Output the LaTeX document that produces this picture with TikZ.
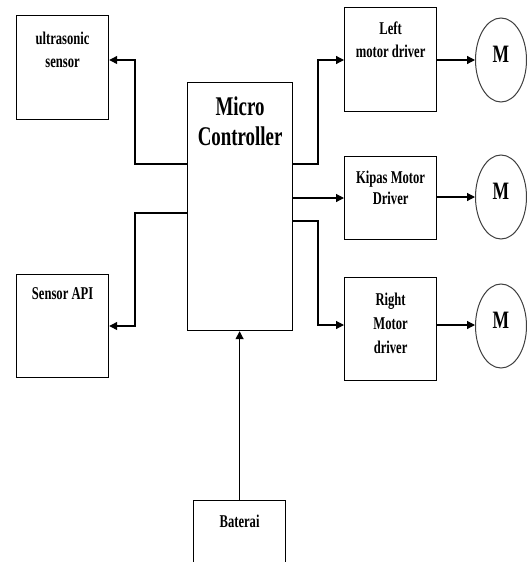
\documentclass[tikz,border=0pt]{standalone}
\usepackage{fontspec}
\setmainfont[FakeStretch=0.7]{Liberation Serif}
\usetikzlibrary{arrows.meta,shapes.geometric}
\begin{document}
\begin{tikzpicture}[x=1pt,y=1pt,
  blk/.style={draw=black, line width=1.2pt, rectangle, inner sep=0pt, anchor=north west},
  lab/.style={anchor=north, inner sep=0pt, align=center, yshift=-15pt,
    font=\bfseries\fontsize{18}{23}\selectfont},
  biglab/.style={anchor=north, inner sep=0pt, align=center, yshift=-15pt,
    font=\bfseries\fontsize{27}{30}\selectfont},
  motor/.style={draw=black!75, line width=1pt, ellipse, minimum width=51pt, minimum height=84pt, inner sep=0pt,
    font=\bfseries\fontsize{25}{25}\selectfont},
  arr/.style={draw=black, line width=1.2pt, -{Triangle[length=8pt,width=8pt]}}]
\useasboundingbox (0,0) rectangle (527,-562);
\clip (0,0) rectangle (527,-562);
\fill[white] (0,0) rectangle (527,-562);

\node[blk, minimum width=92pt, minimum height=104pt,
  label={[lab, yshift=-2pt]north:{ultrasonic\\sensor}}] (us) at (16,-15) {};
\node[blk, minimum width=92pt, minimum height=103pt,
  label={[lab, yshift=2pt]north:{Sensor API}}] (api) at (16,-274) {};
\node[blk, minimum width=105pt, minimum height=248pt,
  label={[biglab]north:{Micro\\Controller}}] (mc) at (187,-82) {};
\node[blk, minimum width=92pt, minimum height=80pt,
  label={[lab]north:{Baterai}}] (bat) at (193,-500) {};
\node[blk, minimum width=92pt, minimum height=104pt,
  label={[lab]north:{Left\\motor driver}}] (lmd) at (344,-7) {};
\node[blk, minimum width=92pt, minimum height=83pt,
  label={[lab, font=\bfseries\fontsize{18}{21}\selectfont]north:{Kipas Motor\\Driver}}] (kmd) at (344,-156) {};
\node[blk, minimum width=92pt, minimum height=103pt,
  label={[lab, yshift=-1pt, font=\bfseries\fontsize{18}{24}\selectfont]north:{Right\\Motor\\driver}}] (rmd) at (344,-277) {};

\node[motor] (m1) at (501,-60) {};
\node[motor] (m2) at (501,-197) {};
\node[motor] (m3) at (501,-326) {};
\node[inner sep=0pt, font=\bfseries\fontsize{25}{25}\selectfont] (t1) at ([yshift=6pt]m1.center) {M};
\node[inner sep=0pt, font=\bfseries\fontsize{25}{25}\selectfont] (t2) at ([yshift=6pt]m2.center) {M};
\node[inner sep=0pt, font=\bfseries\fontsize{25}{25}\selectfont] (t3) at ([yshift=6pt]m3.center) {M};

% left side connectors
\draw[arr] (mc.west |- 0,-164) -| (135,-60) -- (us.east |- 0,-60);
\draw[arr] (mc.west |- 0,-213) -| (135,-326) -- (api.east |- 0,-326);
% battery
\draw[arr] (bat.north) -- (bat.north |- mc.south);
% right side connectors
\draw[arr] (mc.east |- 0,-164) -| (318,-60) -- (lmd.west |- 0,-60);
\draw[arr] (mc.east |- 0,-198) -- (kmd.west |- 0,-198);
\draw[arr] (mc.east |- 0,-221) -| (318,-325) -- (rmd.west |- 0,-325);
% motors
\draw[arr] (lmd.east |- m1.west) -- (m1.west);
\draw[arr] (kmd.east |- m2.west) -- (m2.west);
\draw[arr] (rmd.east |- 0,-325) -- (m3.west |- 0,-325);
\end{tikzpicture}
\end{document}
